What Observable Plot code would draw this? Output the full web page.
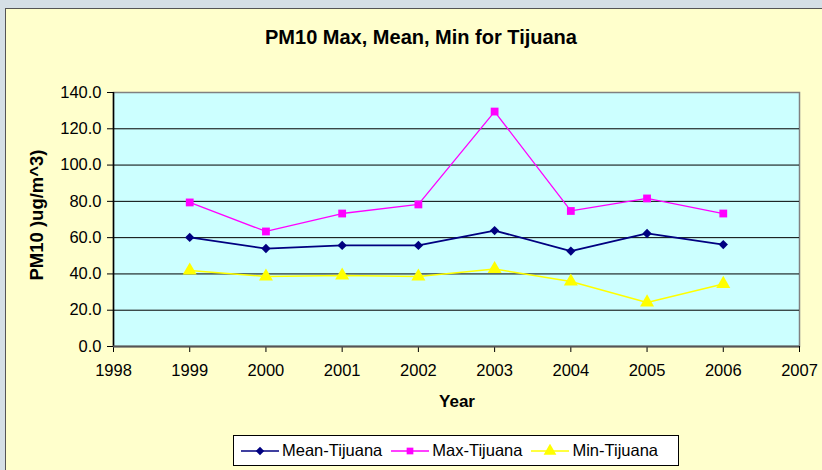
<!DOCTYPE html>
<html>
<head>
<meta charset="utf-8">
<script src="https://cdn.jsdelivr.net/npm/d3@7"></script>
<script src="https://cdn.jsdelivr.net/npm/@observablehq/plot@0.6"></script>
<style>
  body { margin: 0; background: #d5dfe6; font-family: "Liberation Sans", Arial, sans-serif; }
  #wrap { position: relative; width: 822px; height: 470px; overflow: hidden; }
  #panel { position: absolute; left: 5px; top: 8px; width: 840px; height: 480px; background: #ffffcc; border: 1px solid #555; }
  #chart { position: absolute; left: 0; top: 0; }
  .title { position: absolute; left: 0; width: 842px; top: 25px; text-align: center; font-weight: bold; font-size: 20px; line-height: 24px; }
  .ylab { position: absolute; left: 37px; top: 215px; transform: translate(-50%, -50%) rotate(-90deg); font-weight: bold; font-size: 18.5px; white-space: nowrap; line-height: 20px; }
  .xlab { position: absolute; left: 457px; top: 392px; transform: translateX(-50%); font-weight: bold; font-size: 17px; line-height: 20px; }
  #legend { position: absolute; left: 233px; top: 435px; width: 446px; height: 31px; background: #fff; border: 1px solid #000; box-sizing: border-box; display: flex; align-items: center; font-size: 16.5px; padding-left: 7px; white-space: nowrap; overflow: hidden; }
  #legend .item { display: flex; align-items: center; margin-right: 9px; flex-shrink: 0; white-space: nowrap; }
  #legend svg { margin-right: 3px; flex-shrink: 0; }
</style>
</head>
<body>
<div id="wrap">
  <div id="panel"></div>
  <div id="chart"></div>
  <div class="title">PM10 Max, Mean, Min for Tijuana</div>
  <div class="ylab">PM10 )ug/m^3)</div>
  <div class="xlab">Year</div>
  <div id="legend"></div>
</div>
<script>
const years = [1999, 2000, 2001, 2002, 2003, 2004, 2005, 2006];
const meanVals = [60.1, 54.0, 55.7, 55.7, 63.9, 52.6, 62.3, 56.2];
const maxVals = [79.4, 63.4, 73.3, 78.3, 129.5, 74.7, 81.6, 73.3];
const minVals = [41.9, 38.6, 39.1, 38.6, 42.7, 35.8, 24.3, 34.5];
const xTicks = [1998, 1999, 2000, 2001, 2002, 2003, 2004, 2005, 2006, 2007];
const yTicks = [0, 20, 40, 60, 80, 100, 120, 140];
const seriesNames = ["Mean-Tijuana", "Max-Tijuana", "Min-Tijuana"];
const seriesColors = ["#000080", "#ff00ff", "#ffff00"];
const seriesSymbols = ["diamond2", "square", "triangle"];

const meanData = years.map((y, i) => ({year: y, value: meanVals[i]}));
const maxData = years.map((y, i) => ({year: y, value: maxVals[i]}));
const minData = years.map((y, i) => ({year: y, value: minVals[i]}));

const chart = Plot.plot({
  width: 822,
  height: 470,
  marginLeft: 113,
  marginRight: 23,
  marginTop: 92,
  marginBottom: 124,
  style: { background: "transparent", fontFamily: "Liberation Sans, Arial, sans-serif", fontSize: "16.5px", color: "#000" },
  x: { domain: [1998, 2007] },
  y: { domain: [0, 140] },
  marks: [
    Plot.frame({ fill: "#ccffff", stroke: "#808080", strokeWidth: 1.5 }),
    Plot.ruleY(yTicks.filter(d => d > 0 && d < 140), { stroke: "#000", strokeWidth: 1 }),
    Plot.axisY({ ticks: yTicks, tickFormat: d => d.toFixed(1), tickSize: 6, tickPadding: 6, label: null, stroke: "#000", fontSize: 16.5 }),
    Plot.axisX({ ticks: xTicks, tickFormat: d => String(d), tickSize: 6, tickPadding: 12, label: null, stroke: "#000", fontSize: 16.5 }),
    Plot.ruleX([1998], { stroke: "#000", strokeWidth: 1.5 }),
    Plot.ruleY([0], { stroke: "#555", strokeWidth: 2 }),
    Plot.line(minData, { x: "year", y: "value", stroke: seriesColors[2], strokeWidth: 1.5 }),
    Plot.line(maxData, { x: "year", y: "value", stroke: seriesColors[1], strokeWidth: 1.3 }),
    Plot.line(meanData, { x: "year", y: "value", stroke: seriesColors[0], strokeWidth: 1.8 }),
    Plot.dot(minData, { x: "year", y: "value", symbol: seriesSymbols[2], fill: seriesColors[2], r: 5.2 }),
    Plot.dot(maxData, { x: "year", y: "value", symbol: seriesSymbols[1], fill: seriesColors[1], r: 4.4 }),
    Plot.dot(meanData, { x: "year", y: "value", symbol: seriesSymbols[0], fill: seriesColors[0], r: 4.2 })
  ]
});
document.getElementById("chart").appendChild(chart);

// Legend
const legend = d3.select("#legend");
seriesNames.forEach((name, i) => {
  const item = legend.append("div").attr("class", "item");
  const svg = item.append("svg").attr("width", 38).attr("height", 14);
  svg.append("line").attr("x1", 0).attr("x2", 38).attr("y1", 7).attr("y2", 7)
    .attr("stroke", seriesColors[i]).attr("stroke-width", 1.5);
  const sym = { diamond2: d3.symbolDiamond2, square: d3.symbolSquare, triangle: d3.symbolTriangle }[seriesSymbols[i]];
  svg.append("path").attr("transform", "translate(19,7)")
    .attr("d", d3.symbol(sym, i === 2 ? 70 : 45)())
    .attr("fill", seriesColors[i]);
  item.append("span").text(name);
});
</script>
</body>
</html>
